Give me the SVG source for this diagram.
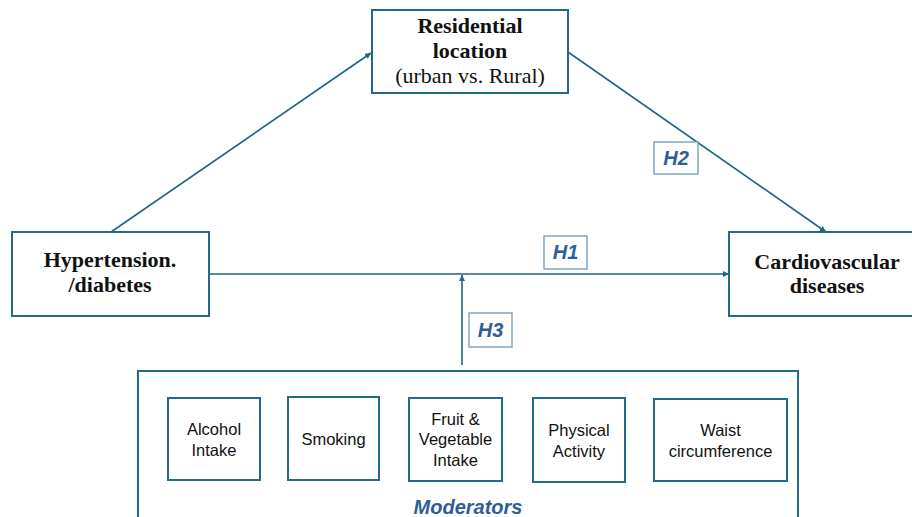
<svg xmlns="http://www.w3.org/2000/svg" width="912" height="517" viewBox="0 0 912 517">
<defs>
<marker id="arr" viewBox="0 0 10 10" refX="10" refY="5" markerWidth="6" markerHeight="6" markerUnits="userSpaceOnUse" orient="auto">
<path d="M0,0 L10,5 L0,10 z" fill="#1f6485"/>
</marker>
<style>
.box{fill:#fff;stroke:#22698b;stroke-width:2}
.sbox{fill:#fff;stroke:#22698b;stroke-width:2}
.hbox{fill:#fff;stroke:#6f98b3;stroke-width:1.3}
.conn{stroke:#1f6485;stroke-width:1.6;fill:none}
.main{font-family:"Liberation Serif","DejaVu Serif",serif;font-size:22px;fill:#111;text-anchor:middle}
.b{font-weight:bold}
.sans{font-family:"Liberation Sans",Arial,sans-serif;font-size:16.5px;fill:#111;text-anchor:middle}
.h{font-family:"Liberation Sans",Arial,sans-serif;font-size:20px;font-weight:bold;font-style:italic;fill:#2e5e9a;text-anchor:middle}
</style>
</defs>
<rect width="912" height="517" fill="#fff"/>
<g id="connectors">
<line class="conn" x1="111" y1="232" x2="371" y2="53" marker-end="url(#arr)"/>
<line class="conn" x1="568" y1="52" x2="826" y2="232" marker-end="url(#arr)"/>
<line class="conn" x1="209" y1="274" x2="729" y2="274" marker-end="url(#arr)"/>
<line class="conn" x1="462" y1="365" x2="462" y2="275" marker-end="url(#arr)"/>
</g>
<g id="residential">
<rect class="box" x="372" y="10" width="196" height="83"/>
<text class="main b" x="470" y="33">Residential</text>
<text class="main b" x="470" y="58">location</text>
<text class="main" x="470" y="83">(urban vs. Rural)</text>
</g>
<g id="hypertension">
<rect class="box" x="12" y="232" width="197" height="84"/>
<text class="main b" x="110" y="267">Hypertension.</text>
<text class="main b" x="110" y="292">/diabetes</text>
</g>
<g id="cvd">
<rect class="box" x="729" y="232" width="190" height="84"/>
<text class="main b" x="827" y="269">Cardiovascular</text>
<text class="main b" x="827" y="293">diseases</text>
</g>
<g id="h1">
<rect class="hbox" x="544" y="236" width="43" height="33"/>
<text class="h" x="565.5" y="259">H1</text>
</g>
<g id="h2">
<rect class="hbox" x="654" y="142" width="44" height="32"/>
<text class="h" x="676" y="165">H2</text>
</g>
<g id="h3">
<rect class="hbox" x="469" y="313" width="43" height="34"/>
<text class="h" x="490.5" y="337">H3</text>
</g>
<g id="moderators">
<rect class="box" x="138" y="371" width="660" height="160"/>
<text class="h" x="468" y="514">Moderators</text>
</g>
<g id="alcohol">
<rect class="sbox" x="168" y="398" width="92" height="82"/>
<text class="sans" x="214" y="435">Alcohol</text>
<text class="sans" x="214" y="456">Intake</text>
</g>
<g id="smoking">
<rect class="sbox" x="288" y="397" width="91" height="83"/>
<text class="sans" x="333.5" y="445">Smoking</text>
</g>
<g id="fruit">
<rect class="sbox" x="409" y="398" width="93" height="83"/>
<text class="sans" x="455.5" y="425">Fruit &amp;</text>
<text class="sans" x="455.5" y="445">Vegetable</text>
<text class="sans" x="455.5" y="466">Intake</text>
</g>
<g id="physical">
<rect class="sbox" x="533" y="398" width="92" height="84"/>
<text class="sans" x="579" y="436">Physical</text>
<text class="sans" x="579" y="457">Activity</text>
</g>
<g id="waist">
<rect class="sbox" x="654" y="399" width="133" height="82"/>
<text class="sans" x="720.5" y="436">Waist</text>
<text class="sans" x="720.5" y="457">circumference</text>
</g>
</svg>
